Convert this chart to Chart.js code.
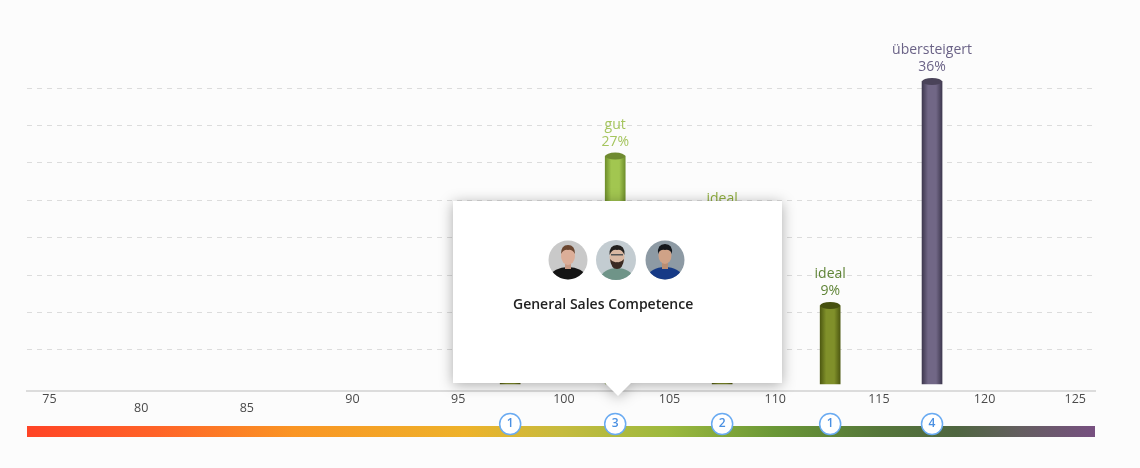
<!DOCTYPE html>
<html>
<head>
<meta charset="utf-8">
<script src="https://cdn.jsdelivr.net/npm/chart.js@4"></script>
<style>
  html, body { margin: 0; padding: 0; background: #fcfcfc; }
  #wrap { position: relative; width: 1140px; height: 468px; overflow: hidden; font-family: "Open Sans", sans-serif; }
  canvas { position: absolute; left: 0; top: 0; }
  #popup { position: absolute; left: 453px; top: 201px; width: 329px; height: 195px; filter: drop-shadow(0 2px 7px rgba(0,0,0,.32)); }
  #popup .box { position: absolute; left: 0; top: 0; width: 329px; height: 182px; background: #fff; }
  #popup .arrow { position: absolute; left: 152px; top: 169px; width: 26px; height: 26px; background: #fff; clip-path: polygon(0 50%, 100% 50%, 50% 100%); }
  #popup svg { position: absolute; top: 39px; width: 40px; height: 40px; }
  #popup .title { position: absolute; left: 60px; top: 93px; font-size: 14px; font-weight: 600; color: #222; white-space: nowrap; }
</style>
</head>
<body>
<div id="wrap">
  <canvas id="chart" width="1140" height="468"></canvas>
  <div id="popup">
    <div class="box"></div>
    <div class="arrow"></div>
    <svg viewBox="0 0 40 40" style="left:95px">
      <defs><clipPath id="c1"><circle cx="20" cy="20" r="19.5"/></clipPath></defs>
      <g clip-path="url(#c1)">
        <rect width="40" height="40" fill="#c9c9c9"/>
        <ellipse cx="20" cy="36" rx="17" ry="9" fill="#141414"/>
        <rect x="17" y="22" width="6" height="7" fill="#c99a84"/>
        <ellipse cx="20" cy="16" rx="7" ry="9" fill="#dcae98"/>
        <path d="M13 14 Q13 5 20 5 Q27 5 27 14 Q24 9 20 10 Q16 9 13 14Z" fill="#6b4630"/>
      </g>
    </svg>
    <svg viewBox="0 0 40 40" style="left:143px">
      <defs><clipPath id="c2"><circle cx="20" cy="20" r="20"/></clipPath></defs>
      <g clip-path="url(#c2)">
        <rect width="40" height="40" fill="#c3ccd1"/>
        <ellipse cx="21" cy="38" rx="16" ry="10" fill="#6f9488"/>
        <ellipse cx="21" cy="17" rx="7.5" ry="10" fill="#d9b8a2"/>
        <path d="M14 19 Q15 29 21 29 Q27 29 28 19 Q25 23 21 22 Q17 23 14 19Z" fill="#3a2a22"/>
        <path d="M13.500 15 Q13 5 21 5 Q29 5 28.500 15 Q26 9 21 10 Q16 9 13.500 15Z" fill="#22201e"/>
        <rect x="15" y="14" width="12" height="1.500" fill="#555"/>
      </g>
    </svg>
    <svg viewBox="0 0 40 40" style="left:192px">
      <defs><clipPath id="c3"><circle cx="20" cy="20" r="19.5"/></clipPath></defs>
      <g clip-path="url(#c3)">
        <rect width="40" height="40" fill="#8d9aa4"/>
        <ellipse cx="20" cy="37" rx="17" ry="10" fill="#163a86"/>
        <rect x="17" y="22" width="6" height="7" fill="#b98d72"/>
        <ellipse cx="20" cy="15.500" rx="6.500" ry="8.500" fill="#cfa287"/>
        <path d="M13 14 Q12 4 20 4 Q28 4 27 14 Q25 9 20 10 Q15 9 13 14Z" fill="#14171c"/>
      </g>
    </svg>
    <div class="title">General Sales Competence</div>
  </div>
</div>
<script>
const xTicks = [75, 80, 85, 90, 95, 100, 105, 110, 115, 120, 125];
const barPositions = [97.46, 102.43, 107.49, 112.6, 117.42];
const barShares = [9, 27, 18, 9, 36];
const barNames = ['ideal', 'gut', 'ideal', 'ideal', 'übersteigert'];
const personCounts = [1, 3, 2, 1, 4];
const gridValues = [3.64, 8.15, 12.66, 17.17, 21.68, 26.2, 30.7, 35.2];

// edge, middle, cap, label colour per bar
const barEdge = ['#565c12', '#6f8f2c', '#565c12', '#4f5a12', '#3f3950'];
const barMiddle = ['#84912a', '#a2c650', '#84912a', '#80902a', '#716786'];
const barCap = ['#4d5510', '#6f8a30', '#4d5510', '#46500f', '#4a4359'];
const labelColor = ['#84912a', '#a5c55e', '#8fae3f', '#5f8436', '#6b6387'];

const scaleStops = [
  [0, '#ff4426'], [0.12, '#ff6328'], [0.25, '#fa9524'], [0.41, '#eeb22a'],
  [0.5, '#c6bb3e'], [0.6, '#9cb93e'], [0.7, '#6a9736'], [0.8, '#55763a'],
  [0.87, '#4f6640'], [0.93, '#645e60'], [1, '#775080']
];

const barStyle = {
  id: 'barStyle',
  afterDatasetsDraw(chart) {
    const c = chart.ctx;
    const bars = chart.getDatasetMeta(0).data;
    bars.forEach((b, i) => {
      c.save();
      c.fillStyle = barCap[i];
      c.beginPath();
      c.ellipse(b.x, b.y, 10, 3.5, 0, 0, Math.PI * 2);
      c.fill();
      c.textAlign = 'center';
      c.textBaseline = 'middle';
      c.font = '14px "Open Sans"';
      c.fillStyle = labelColor[i];
      c.fillText(barNames[i], b.x, b.y - 31.5);
      c.fillText(barShares[i] + '%', b.x, b.y - 14.5);
      c.restore();
    });
  }
};

const scaleStrip = {
  id: 'scaleStrip',
  afterDraw(chart) {
    const c = chart.ctx;
    const x = chart.scales.x;
    const area = chart.chartArea;
    c.save();
    // axis numbers, first and last pulled inwards, 80 and 85 sit lower
    c.font = '12.5px "Open Sans"';
    c.fillStyle = '#4a4a4a';
    c.textAlign = 'center';
    c.textBaseline = 'middle';
    xTicks.forEach(t => {
      let px = x.getPixelForValue(t);
      if (t === 75) px += 14;
      if (t === 115 || t === 120) px -= 2;
      if (t === 125) px -= 17;
      c.fillText(String(t), px, area.bottom + (t === 80 || t === 85 ? 17 : 8));
    });
    // colour strip
    const g = c.createLinearGradient(area.left, 0, area.right, 0);
    scaleStops.forEach(s => g.addColorStop(s[0], s[1]));
    c.fillStyle = g;
    c.fillRect(area.left, area.bottom + 35, area.right - area.left, 11);
    // count badges
    barPositions.forEach((p, i) => {
      const px = x.getPixelForValue(p);
      c.beginPath();
      c.arc(px, area.bottom + 33, 10.5, 0, Math.PI * 2);
      c.fillStyle = '#fff';
      c.fill();
      c.lineWidth = 1.5;
      c.strokeStyle = '#6aabf2';
      c.stroke();
      c.fillStyle = '#4a90e2';
      c.font = '600 12px "Open Sans"';
      c.fillText(String(personCounts[i]), px, area.bottom + 33);
    });
    c.restore();
  }
};

new Chart(document.getElementById('chart'), {
  type: 'bar',
  data: {
    datasets: [{
      data: barPositions.map((p, i) => ({ x: p, y: barShares[i] })),
      base: -0.46,
      barThickness: 20,
      borderWidth: 0,
      backgroundColor(ctx) {
        const chart = ctx.chart;
        if (!chart.chartArea || ctx.raw === undefined) return '#888';
        const px = chart.scales.x.getPixelForValue(ctx.raw.x);
        const g = chart.ctx.createLinearGradient(px - 10, 0, px + 10, 0);
        g.addColorStop(0, barEdge[ctx.dataIndex]);
        g.addColorStop(0.3, barMiddle[ctx.dataIndex]);
        g.addColorStop(0.7, barMiddle[ctx.dataIndex]);
        g.addColorStop(1, barEdge[ctx.dataIndex]);
        return g;
      }
    }]
  },
  options: {
    responsive: false,
    animation: false,
    devicePixelRatio: 1,
    layout: { padding: { left: 27, right: 45, top: 20, bottom: 69 } },
    plugins: { legend: { display: false }, tooltip: { enabled: false } },
    scales: {
      x: {
        type: 'linear',
        min: 74.6,
        max: 125.13,
        offset: false,
        grid: { display: false },
        border: { color: '#dcdcdc', width: 2 },
        ticks: { display: false }
      },
      y: {
        min: -1.3,
        max: 43.4,
        afterBuildTicks(axis) { axis.ticks = gridValues.map(v => ({ value: v })); },
        grid: { color: '#dcdcdc', drawTicks: false },
        border: { display: false, dash: [5, 5] },
        ticks: { display: false }
      }
    }
  },
  plugins: [barStyle, scaleStrip]
});
</script>
</body>
</html>
